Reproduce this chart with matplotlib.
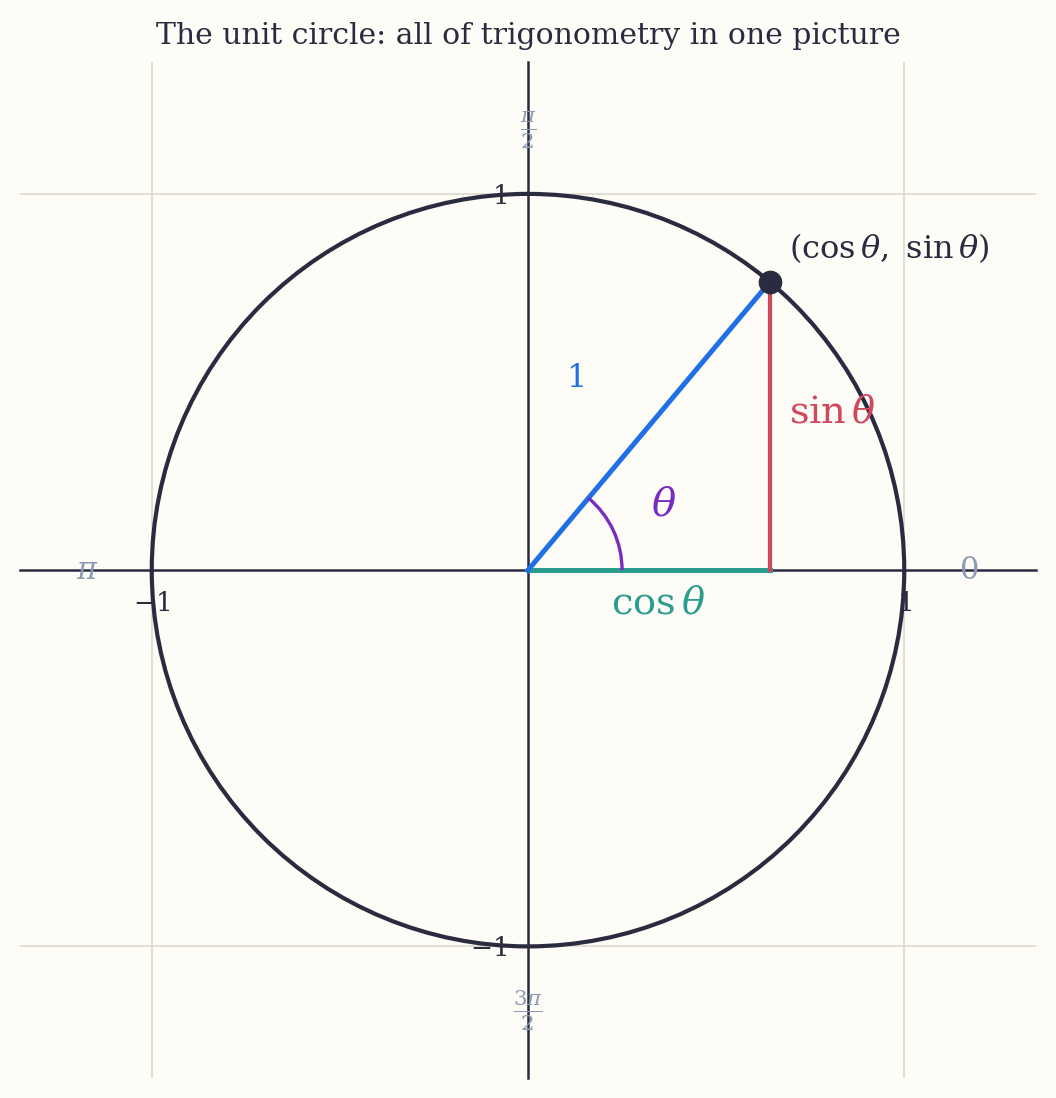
import numpy as np
import matplotlib
matplotlib.use("Agg")
import matplotlib.pyplot as plt
from matplotlib.patches import Circle, Arc

plt.rcParams["mathtext.fontset"] = "dejavuserif"
plt.rcParams["font.family"] = ["DejaVu Serif"]

# データ
theta_deg = 50
arc_radius = 0.25
tick_vals = [-1, 1]
tick_labels = ["$-1$", "$1$"]
angle_marks = [0, 90, 180, 270]
angle_texts = ["$0$", r"$\frac{\pi}{2}$", r"$\pi$", r"$\frac{3\pi}{2}$"]
angle_label_r = 1.17

ink = "#2a2b3f"
bg = "#fdfcf7"
c_blue = "#1f6fe6"
c_red = "#d0485c"
c_green = "#2a9d8f"
c_purple = "#7b2cc0"
c_gray = "#8c9ab3"

th = np.deg2rad(theta_deg)
cx, sy = np.cos(th), np.sin(th)

fig = plt.figure(figsize=(10.56, 10.98), dpi=100, facecolor=bg)
ax = fig.add_axes([0.019, 0.018, 0.962, 0.9255])
ax.set_facecolor(bg)
ax.set_xlim(-1.35, 1.35)
ax.set_ylim(-1.35, 1.35)
ax.set_aspect("equal")

for s in ["top", "right"]:
    ax.spines[s].set_visible(False)
for s in ["left", "bottom"]:
    ax.spines[s].set_position("zero")
    ax.spines[s].set_color(ink)
    ax.spines[s].set_linewidth(1.8)

ax.set_xticks(tick_vals)
ax.set_xticklabels(tick_labels)
ax.set_yticks(tick_vals)
ax.set_yticklabels(tick_labels)
ax.tick_params(length=0, pad=15, labelsize=19, labelcolor=ink)
ax.grid(True, color="#dedcd2", linewidth=1.3)
ax.set_axisbelow(True)

# 単位円
ax.add_patch(Circle((0, 0), 1, fill=False, edgecolor=ink, linewidth=3, zorder=3))

# 半径・sin・cos
ax.plot([0, cx], [0, 0], color=c_green, linewidth=3.6, zorder=4, solid_capstyle="projecting")
ax.plot([cx, cx], [0, sy], color=c_red, linewidth=3, zorder=4)
ax.plot([0, cx], [0, sy], color=c_blue, linewidth=3.6, zorder=4)
ax.add_patch(Arc((0, 0), 2 * arc_radius, 2 * arc_radius, theta1=0, theta2=theta_deg,
                 color=c_purple, linewidth=2.4, zorder=4))
ax.plot([cx], [sy], "o", color=ink, markersize=16, zorder=6)

ax.text(0.125, 0.51, "$1$", color=c_blue, fontsize=23, ha="center", va="center")
ax.text(0.362, 0.172, r"$\theta$", color=c_purple, fontsize=29, ha="center", va="center")
ax.text(0.695, 0.419, r"$\sin\theta$", color=c_red, fontsize=27.5, ha="left", va="center")
ax.text(0.346, -0.09, r"$\cos\theta$", color=c_green, fontsize=27.5, ha="center", va="center")
ax.text(0.695, 0.856, r"$(\cos\theta,\ \sin\theta)$", color=ink, fontsize=23,
        ha="left", va="center")

# 角度ラベル
for deg, lab in zip(angle_marks, angle_texts):
    a = np.deg2rad(deg)
    ax.text(angle_label_r * np.cos(a), angle_label_r * np.sin(a), lab, color=c_gray,
            fontsize=22, ha="center", va="center", zorder=5)

ax.set_title("The unit circle: all of trigonometry in one picture", fontsize=21.5,
             color=ink, pad=13)

fig.savefig("out.png", dpi=100, facecolor=bg)
